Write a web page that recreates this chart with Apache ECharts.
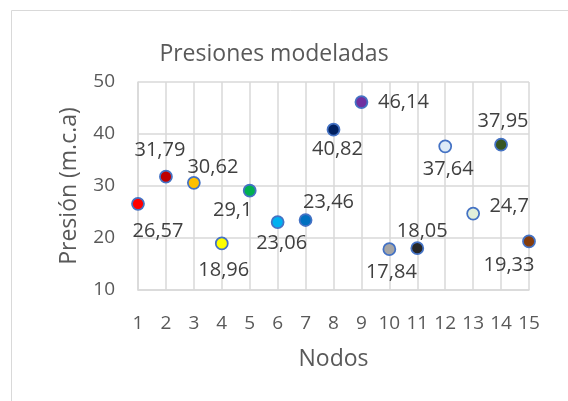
<!DOCTYPE html>
<html>
<head>
<meta charset="utf-8">
<script src="https://cdn.jsdelivr.net/npm/echarts@6/dist/echarts.min.js"></script>
<style>
  html, body { margin: 0; padding: 0; background: #fff; }
  #chart { width: 568px; height: 401px; }
</style>
</head>
<body>
<div id="chart"></div>
<script>
// nodos y presiones (m.c.a)
var nodos = [1, 2, 3, 4, 5, 6, 7, 8, 9, 10, 11, 12, 13, 14, 15];
var presiones = [26.57, 31.79, 30.62, 18.96, 29.1, 23.06, 23.46, 40.82, 46.14, 17.84, 18.05, 37.64, 24.7, 37.95, 19.33];
var etiquetas = ['26,57', '31,79', '30,62', '18,96', '29,1', '23,06', '23,46', '40,82', '46,14', '17,84', '18,05', '37,64', '24,7', '37,95', '19,33'];
var yTicks = [10, 20, 30, 40, 50];

var colores = ['#FF0000', '#C00000', '#FFC000', '#FFFF00', '#00B050', '#00B0F0', '#0070C0', '#002060',
  '#7030A0', '#A5A5A5', '#262626', '#DDEBF7', '#E2EFDA', '#375623', '#843C0C'];
// desplazamiento de cada etiqueta respecto al punto
var offsets = [[20, 27], [-6, -26], [19, -15], [2, 27], [-17, 20], [4, 21], [23, -18], [4, 20],
  [42, 0], [2, 23], [5, -17], [3, 23], [36, -7], [2, -23], [-20, 24]];

var font = 'Open Sans';
var chart = echarts.init(document.getElementById('chart'), null, { renderer: 'canvas' });

var puntos = nodos.map(function (n, i) {
  return {
    value: [n, presiones[i]],
    itemStyle: { color: colores[i] },
    label: { offset: offsets[i], formatter: etiquetas[i] }
  };
});

chart.setOption({
  animation: false,
  title: {
    text: 'Presiones modeladas',
    left: 269,
    textAlign: 'center',
    top: 38,
    textStyle: { fontFamily: font, fontSize: 23, fontWeight: 'normal', color: '#595959' }
  },
  graphic: [{
    type: 'rect',
    shape: { x: 11.5, y: 10.5, width: 700, height: 500 },
    style: { fill: 'none', stroke: '#D9D9D9', lineWidth: 1 }
  }],
  grid: { left: 138, right: 39, top: 82, bottom: 111 },
  xAxis: {
    type: 'value',
    min: 1,
    max: 15,
    interval: 1,
    name: 'Nodos',
    nameLocation: 'middle',
    nameGap: 58,
    nameTextStyle: { fontFamily: font, fontSize: 23, color: '#595959' },
    axisLine: { show: true, lineStyle: { color: '#D9D9D9', width: 1.5 } },
    axisTick: { show: false },
    axisLabel: { fontFamily: font, fontSize: 19, color: '#595959', margin: 24 },
    splitLine: { show: true, lineStyle: { color: '#D9D9D9', width: 1.5 } }
  },
  yAxis: {
    type: 'value',
    min: yTicks[0],
    max: yTicks[yTicks.length - 1],
    interval: 10,
    name: 'Presión (m.c.a)',
    nameLocation: 'middle',
    nameGap: 57,
    nameTextStyle: { fontFamily: font, fontSize: 23, color: '#595959' },
    axisLine: { show: true, lineStyle: { color: '#D9D9D9', width: 1.5 } },
    axisTick: { show: false },
    axisLabel: { fontFamily: font, fontSize: 19, color: '#595959', margin: 23 },
    splitLine: { show: true, lineStyle: { color: '#D9D9D9', width: 1.5 } }
  },
  series: [{
    type: 'scatter',
    symbol: 'circle',
    symbolSize: 12,
    itemStyle: { borderColor: '#4472C4', borderWidth: 1.75, opacity: 1 },
    label: {
      show: true,
      position: 'inside',
      fontFamily: font,
      fontSize: 20,
      color: '#404040'
    },
    data: puntos
  }]
});
</script>
</body>
</html>
